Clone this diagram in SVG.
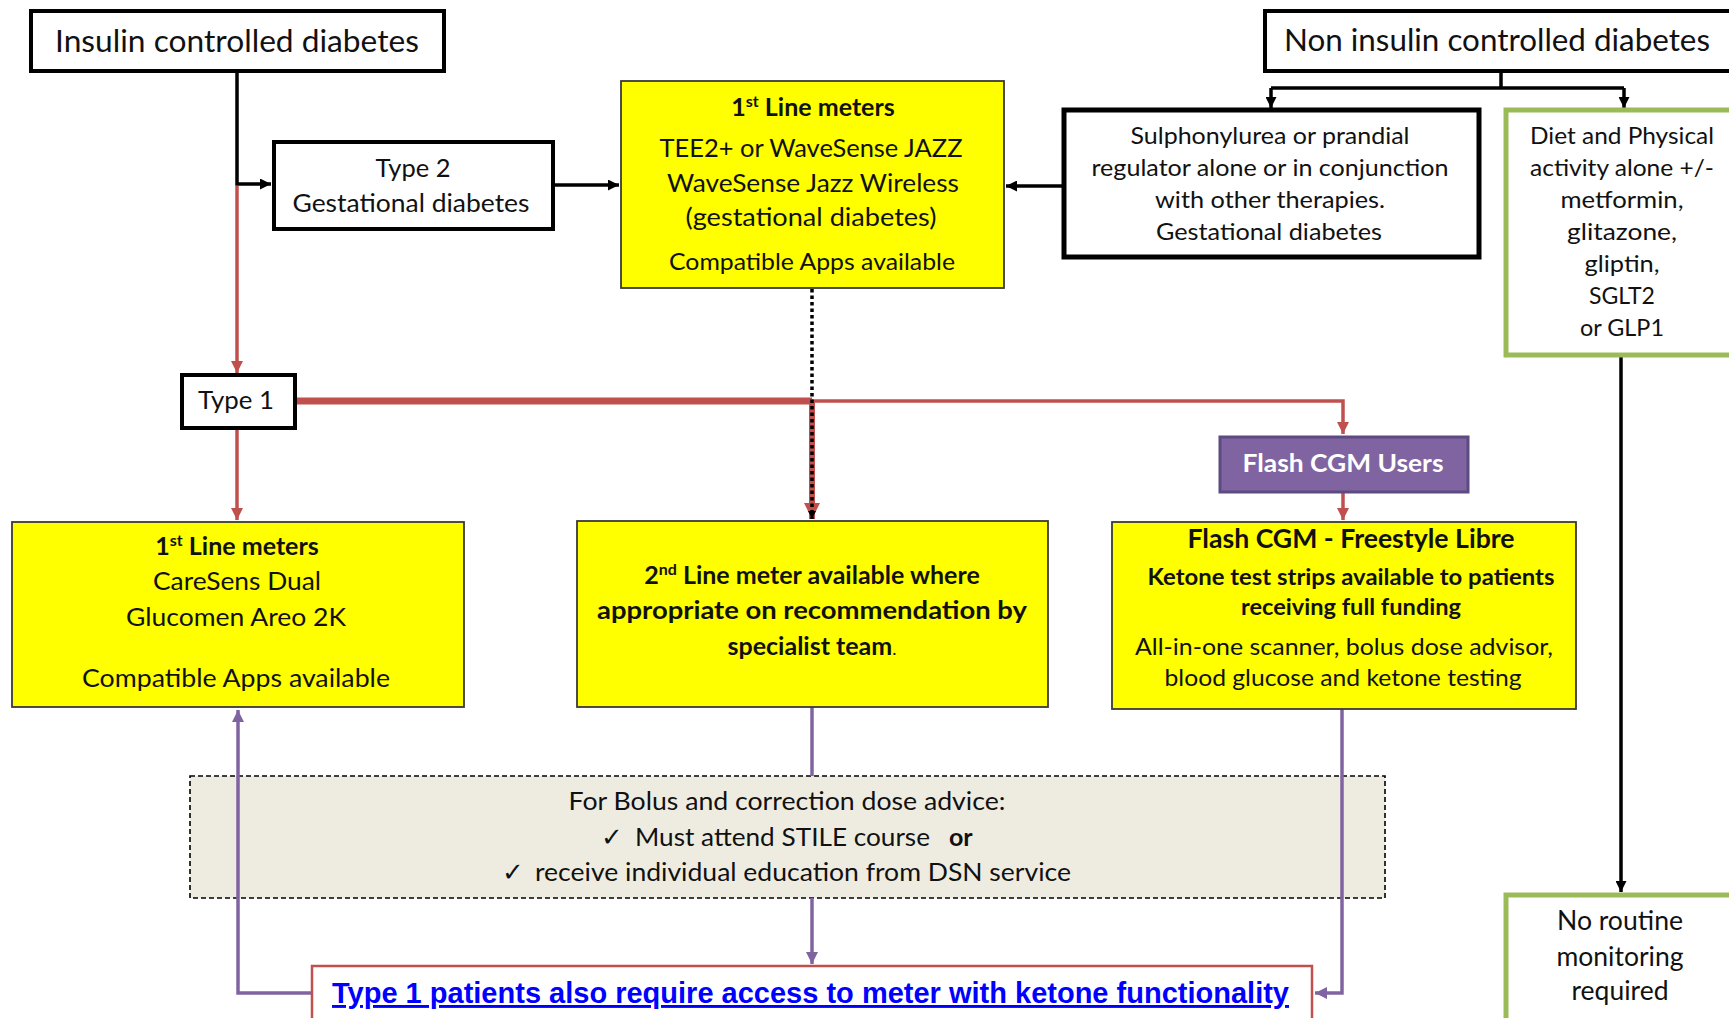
<svg xmlns="http://www.w3.org/2000/svg" width="1729" height="1018" viewBox="0 0 1729 1018">
<defs>
<style>
text{font-family:Lato,"Liberation Sans",sans-serif;fill:#111;text-anchor:middle}
.b{font-weight:bold}
.bk{fill:#fff;stroke:#000;stroke-width:4}
.yl{fill:#ffff00;stroke:#3a3a3a;stroke-width:1.8}
.gr{fill:#fff;stroke:#9bbb59;stroke-width:5}
.c{fill:none}
.cb{stroke:#000;stroke-width:3.5}
.cr{stroke:#c0504d;stroke-width:3.5}
.cp{stroke:#8064a2;stroke-width:3.5}
.chk{font-family:"DejaVu Sans",sans-serif;text-anchor:start}
</style>
<marker id="ab" viewBox="0 0 10 10" refX="10" refY="5" markerWidth="11" markerHeight="11" markerUnits="userSpaceOnUse" orient="auto"><path d="M0,0L10,5L0,10z" fill="#000"/></marker>
<marker id="abs" viewBox="0 0 10 10" refX="10" refY="5" markerWidth="8" markerHeight="8" markerUnits="userSpaceOnUse" orient="auto"><path d="M0,0L10,5L0,10z" fill="#000"/></marker>
<marker id="ar" viewBox="0 0 10 10" refX="10" refY="5" markerWidth="12" markerHeight="12" markerUnits="userSpaceOnUse" orient="auto"><path d="M0,0L10,5L0,10z" fill="#c0504d"/></marker>
<marker id="arl" viewBox="0 0 10 10" refX="10" refY="5" markerWidth="16" markerHeight="16" markerUnits="userSpaceOnUse" orient="auto"><path d="M0,0L10,5L0,10z" fill="#c0504d"/></marker>
<marker id="ap" viewBox="0 0 10 10" refX="10" refY="5" markerWidth="12" markerHeight="12" markerUnits="userSpaceOnUse" orient="auto"><path d="M0,0L10,5L0,10z" fill="#8064a2"/></marker>
</defs>
<rect width="1729" height="1018" fill="#fff"/>

<g id="dose-advice">
<rect x="190" y="776" width="1195" height="122" fill="#eeece1" stroke="#000" stroke-width="1.6" stroke-dasharray="5 3"/>
<text x="787" y="810" font-size="25" textLength="437" lengthAdjust="spacingAndGlyphs">For Bolus and correction dose advice:</text>
<text class="chk" x="601" y="846" font-size="26">✓</text>
<text x="635" y="846" font-size="25" style="text-anchor:start" textLength="295" lengthAdjust="spacingAndGlyphs">Must attend STILE course</text>
<text class="b" x="949" y="846" font-size="25" style="text-anchor:start">or</text>
<text class="chk" x="502" y="881" font-size="26">✓</text>
<text x="535" y="881" font-size="25" style="text-anchor:start" textLength="536" lengthAdjust="spacingAndGlyphs">receive individual education from DSN service</text>
</g>

<g id="connectors" class="c">
<path class="c cb" d="M237,71V184H271" marker-end="url(#ab)"/>
<path class="c cr" d="M237,186V373" marker-end="url(#ar)"/>
<path class="c cb" d="M553,185H619" marker-end="url(#ab)"/>
<path class="c cb" d="M1064,186H1006" marker-end="url(#ab)"/>
<path class="c cb" d="M1501,71V88"/>
<path class="c cb" d="M1271,88H1624"/>
<path class="c cb" d="M1271,88V108" marker-end="url(#ab)"/>
<path class="c cb" d="M1624,88V108" marker-end="url(#ab)"/>
<path class="c cb" d="M1621,356V892" marker-end="url(#ab)"/>
<path class="c cr" d="M237,428V520" marker-end="url(#ar)"/>
<path class="c" d="M295,401H812" stroke="#c0504d" stroke-width="7"/>
<path class="c cr" d="M812,401H1343V434" marker-end="url(#ar)"/>
<path class="c" d="M812,401V519" stroke="#c0504d" stroke-width="6" marker-end="url(#arl)"/>
<path class="c" d="M812,289V519" stroke="#000" stroke-width="3.5" stroke-dasharray="3.5 3" marker-end="url(#abs)"/>
<path class="c cr" d="M1343,492V520" marker-end="url(#ar)"/>
<path class="c cp" d="M812,707V776"/>
<path class="c cp" d="M812,898V964" marker-end="url(#ap)"/>
<path class="c cp" d="M1342,709V993H1315" marker-end="url(#ap)"/>
<path class="c cp" d="M312,993H238V710" marker-end="url(#ap)"/>
</g>

<g id="insulin">
<rect class="bk" x="31" y="11" width="413" height="60"/>
<text x="237" y="52" font-size="30" textLength="364" lengthAdjust="spacingAndGlyphs">Insulin controlled diabetes</text>
</g>

<g id="non-insulin">
<rect class="bk" x="1265" y="11" width="480" height="60"/>
<text x="1497" y="51" font-size="30" textLength="426" lengthAdjust="spacingAndGlyphs">Non insulin controlled diabetes</text>
</g>

<g id="type2">
<rect class="bk" x="274" y="142" width="279" height="87"/>
<text x="413" y="177" font-size="25" textLength="75" lengthAdjust="spacingAndGlyphs">Type 2</text>
<text x="411" y="212" font-size="25" textLength="237" lengthAdjust="spacingAndGlyphs">Gestational diabetes</text>
</g>

<g id="first-line-top">
<rect class="yl" x="621" y="81" width="383" height="207"/>
<text class="b" x="813" y="116" font-size="25">1<tspan font-size="16" dy="-9">st</tspan><tspan dy="9"> Line meters</tspan></text>
<text x="811" y="157" font-size="25" textLength="303" lengthAdjust="spacingAndGlyphs">TEE2+ or WaveSense JAZZ</text>
<text x="813" y="192" font-size="25" textLength="292" lengthAdjust="spacingAndGlyphs">WaveSense Jazz Wireless</text>
<text x="811" y="226" font-size="25" textLength="251" lengthAdjust="spacingAndGlyphs">(gestational diabetes)</text>
<text x="812" y="270" font-size="23" textLength="286" lengthAdjust="spacingAndGlyphs">Compatible Apps available</text>
</g>

<g id="sulphonylurea">
<rect x="1064" y="110" width="415" height="147" fill="#fff" stroke="#000" stroke-width="5"/>
<text x="1270" y="144" font-size="23" textLength="279" lengthAdjust="spacingAndGlyphs">Sulphonylurea or prandial</text>
<text x="1270" y="176" font-size="23" textLength="357" lengthAdjust="spacingAndGlyphs">regulator alone or in conjunction</text>
<text x="1270" y="208" font-size="23" textLength="230" lengthAdjust="spacingAndGlyphs">with other therapies.</text>
<text x="1269" y="240" font-size="23" textLength="226" lengthAdjust="spacingAndGlyphs">Gestational diabetes</text>
</g>

<g id="diet">
<rect class="gr" x="1506" y="110" width="240" height="245"/>
<text x="1622" y="144" font-size="23" textLength="184" lengthAdjust="spacingAndGlyphs">Diet and Physical</text>
<text x="1622" y="176" font-size="23" textLength="184" lengthAdjust="spacingAndGlyphs">activity alone +/-</text>
<text x="1622" y="208" font-size="23" textLength="123" lengthAdjust="spacingAndGlyphs">metformin,</text>
<text x="1622" y="240" font-size="23" textLength="110" lengthAdjust="spacingAndGlyphs">glitazone,</text>
<text x="1622" y="272" font-size="23" textLength="75" lengthAdjust="spacingAndGlyphs">gliptin,</text>
<text x="1622" y="304" font-size="23" textLength="66" lengthAdjust="spacingAndGlyphs">SGLT2</text>
<text x="1622" y="336" font-size="23" textLength="84" lengthAdjust="spacingAndGlyphs">or GLP1</text>
</g>

<g id="no-routine">
<rect class="gr" x="1506" y="895" width="240" height="140"/>
<text x="1620" y="930" font-size="26" textLength="126" lengthAdjust="spacingAndGlyphs">No routine</text>
<text x="1620" y="966" font-size="26" textLength="127" lengthAdjust="spacingAndGlyphs">monitoring</text>
<text x="1620" y="1000" font-size="26" textLength="97" lengthAdjust="spacingAndGlyphs">required</text>
</g>

<g id="type1">
<rect class="bk" x="182" y="375" width="113" height="53"/>
<text x="236" y="409" font-size="25" textLength="76" lengthAdjust="spacingAndGlyphs">Type 1</text>
</g>

<g id="first-line-left">
<rect class="yl" x="12" y="522" width="452" height="185"/>
<text class="b" x="237" y="555" font-size="25">1<tspan font-size="16" dy="-9">st</tspan><tspan dy="9"> Line meters</tspan></text>
<text x="237" y="590" font-size="25" textLength="168" lengthAdjust="spacingAndGlyphs">CareSens Dual</text>
<text x="236" y="626" font-size="25" textLength="220" lengthAdjust="spacingAndGlyphs">Glucomen Areo 2K</text>
<text x="236" y="687" font-size="25" textLength="308" lengthAdjust="spacingAndGlyphs">Compatible Apps available</text>
</g>

<g id="second-line">
<rect class="yl" x="577" y="521" width="471" height="186"/>
<text class="b" x="812" y="584" font-size="25">2<tspan font-size="16" dy="-9">nd</tspan><tspan dy="9"> Line meter available where</tspan></text>
<text class="b" x="812" y="619" font-size="25" textLength="430" lengthAdjust="spacingAndGlyphs">appropriate on recommendation by</text>
<text x="812" y="655" font-size="25"><tspan class="b">specialist team</tspan><tspan font-size="18">.</tspan></text>
</g>

<g id="flash-users">
<rect x="1220" y="437" width="248" height="55" fill="#8064a2" stroke="#5c4a80" stroke-width="3"/>
<text class="b" x="1343" y="472" font-size="25" style="fill:#fff" textLength="201" lengthAdjust="spacingAndGlyphs">Flash CGM Users</text>
</g>

<g id="flash-libre">
<rect class="yl" x="1112" y="522" width="464" height="187"/>
<text class="b" x="1351" y="548" font-size="26" textLength="327" lengthAdjust="spacingAndGlyphs">Flash CGM - Freestyle Libre</text>
<text class="b" x="1351" y="585" font-size="22" textLength="407" lengthAdjust="spacingAndGlyphs">Ketone test strips available to patients</text>
<text class="b" x="1351" y="615" font-size="22" textLength="220" lengthAdjust="spacingAndGlyphs">receiving full funding</text>
<text x="1344" y="655" font-size="24" textLength="418" lengthAdjust="spacingAndGlyphs">All-in-one scanner, bolus dose advisor,</text>
<text x="1343" y="686" font-size="24" textLength="357" lengthAdjust="spacingAndGlyphs">blood glucose and ketone testing</text>
</g>

<g id="ketone-note">
<rect x="312" y="966" width="1000" height="70" fill="#fff" stroke="#c0504d" stroke-width="2.5"/>
<text x="332" y="1003" font-size="29" font-weight="bold" style="font-family:'Liberation Sans',Arial,sans-serif;fill:#0000ff;text-anchor:start;text-decoration:underline" textLength="957" lengthAdjust="spacingAndGlyphs">Type 1 patients also require access to meter with ketone functionality</text>
</g>
</svg>
